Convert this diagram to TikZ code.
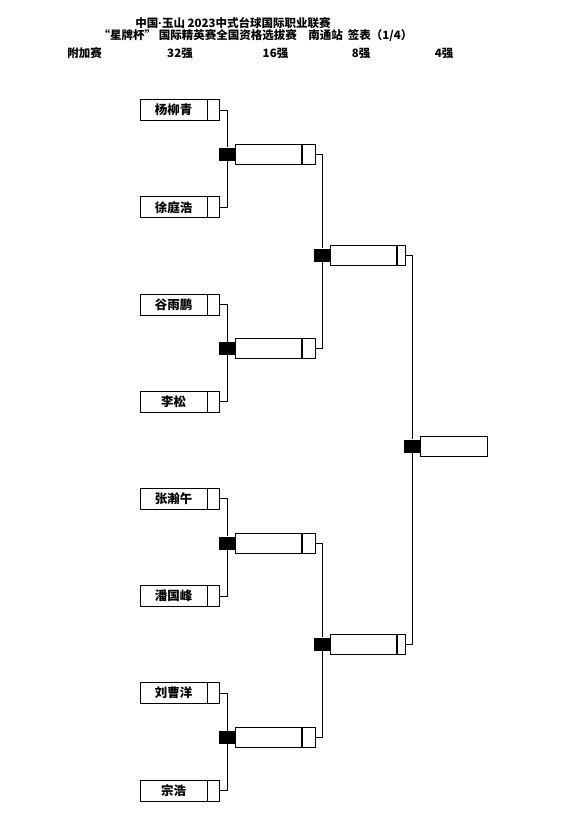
\documentclass[tikz,border=0pt]{standalone}
\usepackage{fontspec}
\setmainfont{Noto Sans CJK SC}
\newfontfamily\latin{Liberation Sans}
\usetikzlibrary{positioning}
\tikzset{
  namebox/.style={draw,line width=0.8pt,minimum width=67pt,minimum height=21pt,inner sep=0pt,
    font=\fontsize{12.5}{13}\selectfont\bfseries},
  scorebox/.style={draw,line width=0.8pt,minimum width=12pt,minimum height=21pt,inner sep=0pt},
  seed/.style={fill=black,minimum width=16pt,minimum height=13pt,inner sep=0pt},
  winbox/.style={draw,line width=0.8pt,minimum width=66pt,minimum height=20pt,inner sep=0pt},
  link/.style={line width=0.8pt},
  title/.style={font=\fontsize{11.5}{12}\selectfont\bfseries,inner sep=0pt}
}
\begin{document}
\begin{tikzpicture}[x=1pt,y=-1pt]
  \useasboundingbox (0,0) rectangle (565,827);
  \node[title] (t1) at (233,23) {中国{\latin\bfseries ·}玉山 2023中式台球国际职业联赛};
  \node[title] (t2) at (255.5,36) {“星牌杯” 国际精英赛全国资格选拔赛\quad 南通站\hspace{5pt}签表（1/4）};
  \node[title] (h0) at (84.5,53) {附加赛};
  \node[title] (h1) at (180,53) {32强};
  \node[title] (h2) at (275.5,53) {16强};
  \node[title] (h3) at (361,53) {8强};
  \node[title] (h4) at (444,53) {4强};
  \foreach \nm [count=\i] in {杨柳青,徐庭浩,谷雨鹏,李松,张瀚午,潘国峰,刘曹洋,宗浩}{
    \node[namebox] (p\i) at (173.5,{110+97.2*(\i-1)}) {\nm};
    \node[scorebox,right=0pt of p\i] (s\i) {};
  }
  \foreach \i/\y in {1/154,2/348.5,3/543,4/737.5}{
    \node[seed] (m\i) at (227,\y) {};
    \node[winbox,right=0pt of m\i] (w\i) {};
    \node[scorebox,minimum width=13pt,minimum height=20pt,right=0pt of w\i] (ws\i) {};
  }
  \foreach \i/\y in {5/255,6/644}{
    \node[seed] (m\i) at (322,\y) {};
    \node[winbox,right=0pt of m\i] (w\i) {};
    \node[scorebox,minimum width=8pt,minimum height=20pt,right=0pt of w\i] (ws\i) {};
  }
  \node[seed] (m7) at (412,446) {};
  \node[winbox,minimum width=67pt,right=0pt of m7] (w7) {};
  \draw[link] (s1.east) -| (m1); \draw[link] (s2.east) -| (m1);
  \draw[link] (s3.east) -| (m2); \draw[link] (s4.east) -| (m2);
  \draw[link] (s5.east) -| (m3); \draw[link] (s6.east) -| (m3);
  \draw[link] (s7.east) -| (m4); \draw[link] (s8.east) -| (m4);
  \draw[link] (ws1.east) -| (m5); \draw[link] (ws2.east) -| (m5);
  \draw[link] (ws3.east) -| (m6); \draw[link] (ws4.east) -| (m6);
  \draw[link] (ws5.east) -| (m7); \draw[link] (ws6.east) -| (m7);
\end{tikzpicture}
\end{document}
